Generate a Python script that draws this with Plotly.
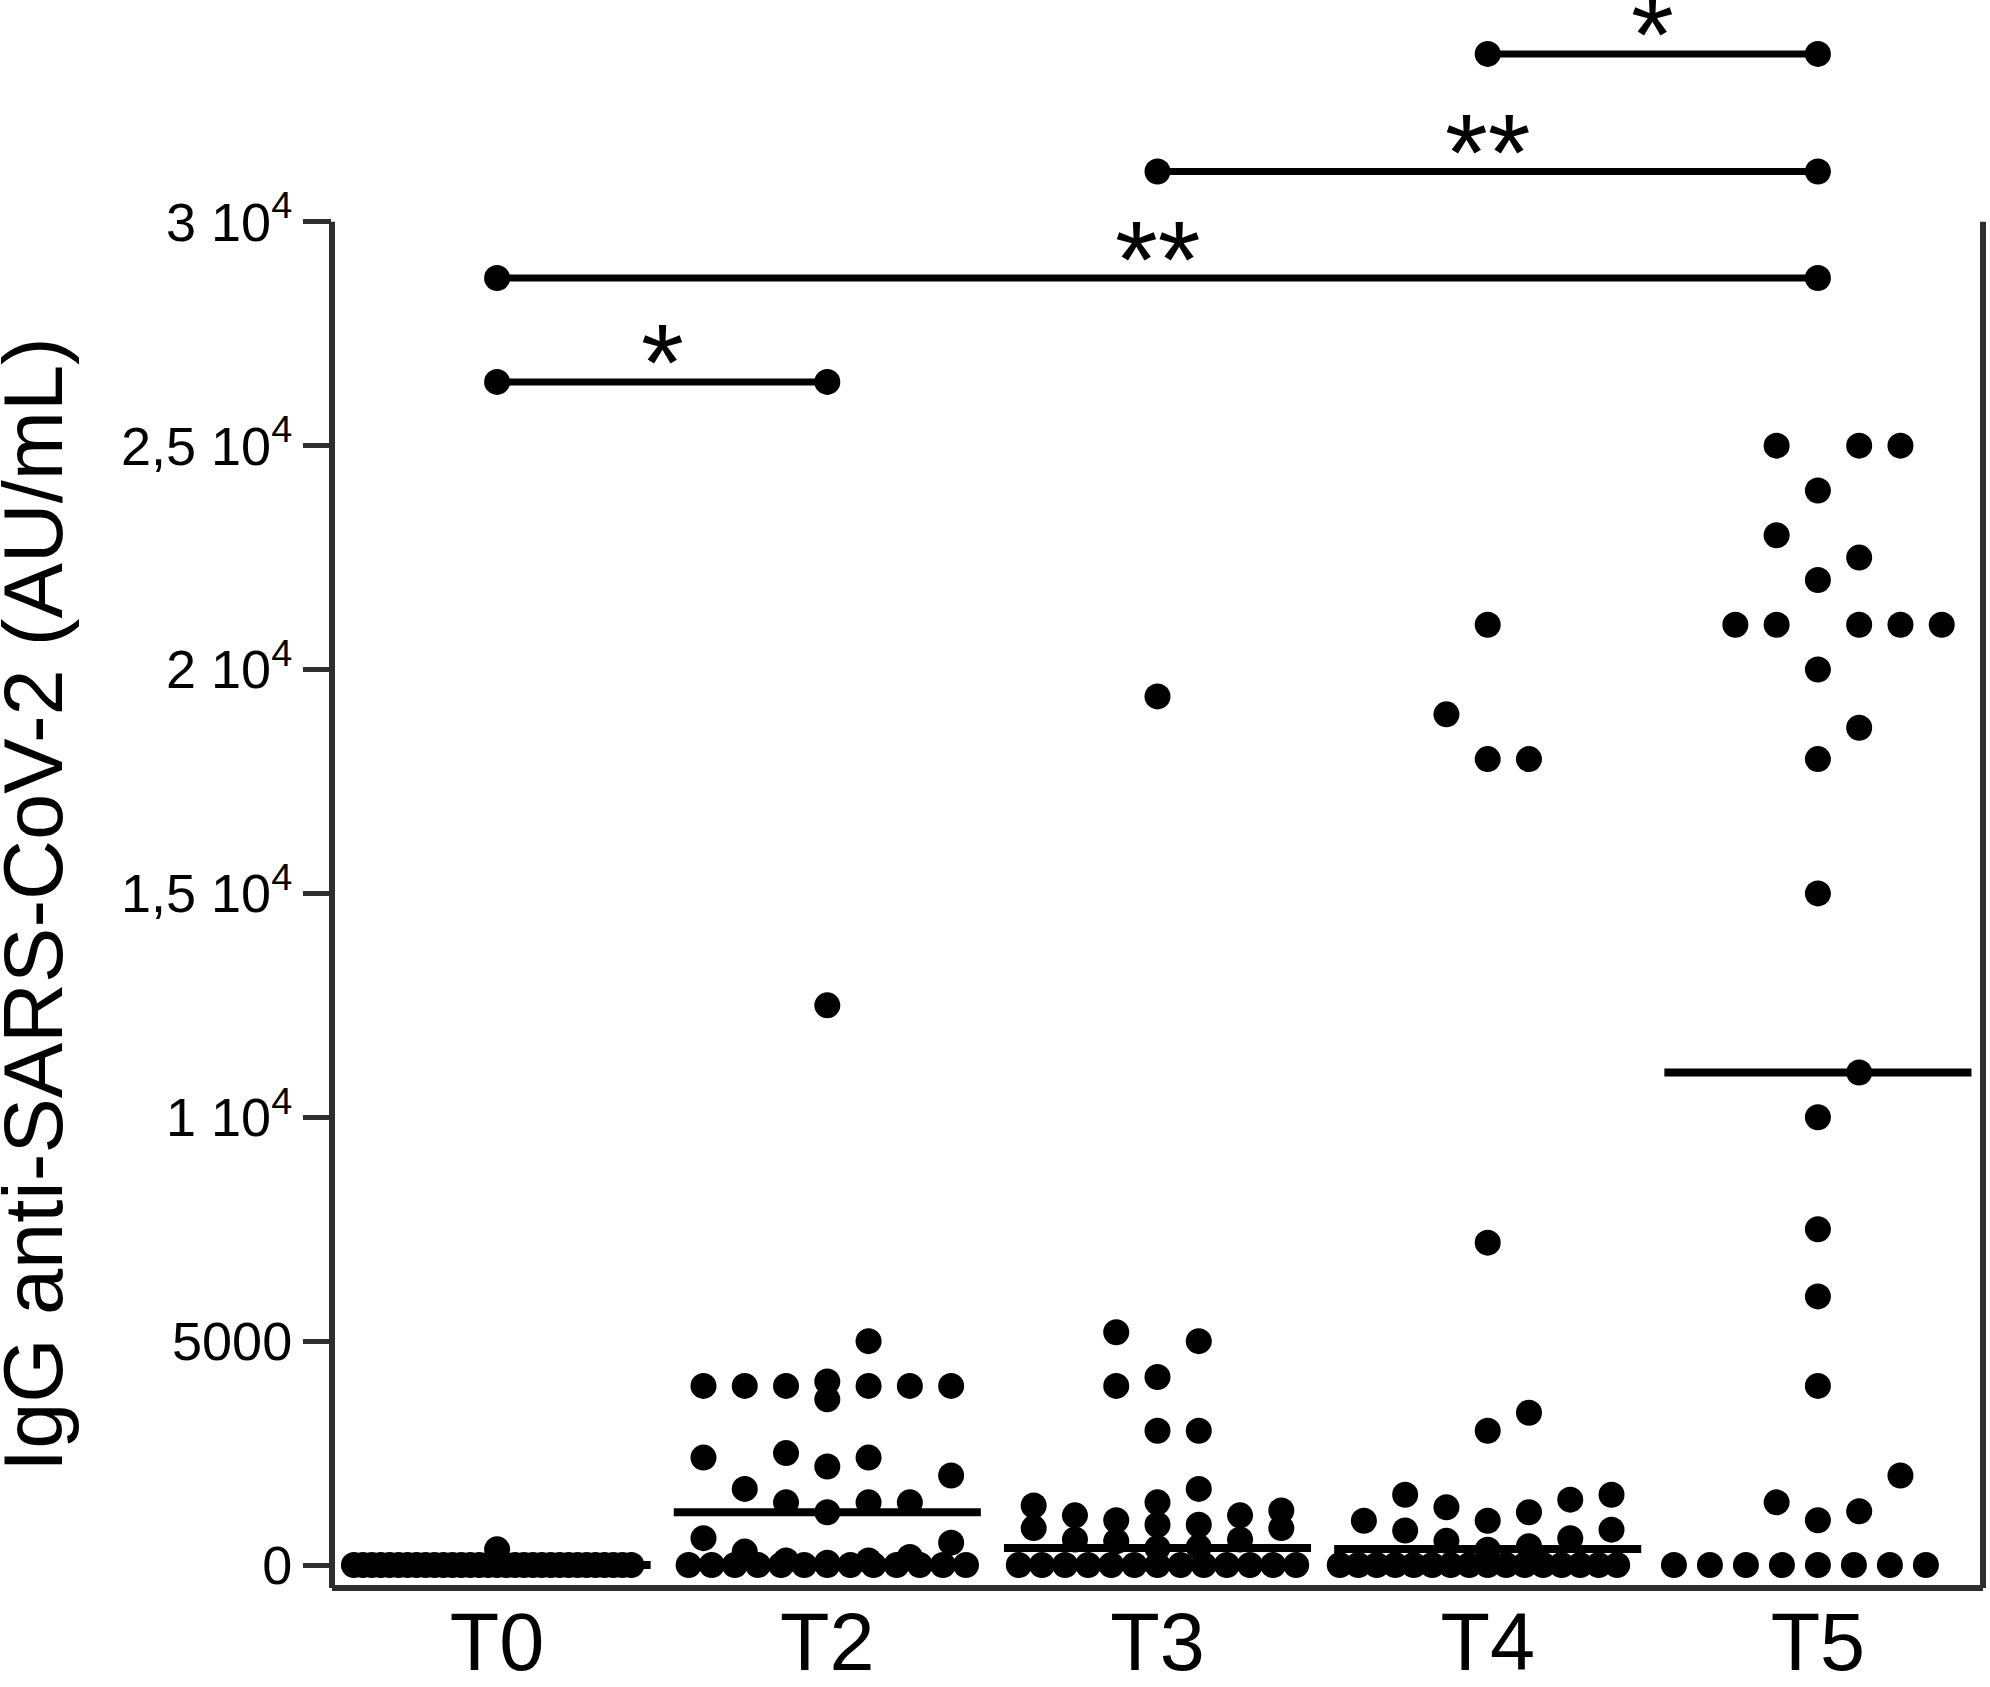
import plotly.graph_objects as go

# ---------------- data ----------------
CATEGORIES = ["T0", "T2", "T3", "T4", "T5"]

T0_VALUES = [0, 0, 0, 0, 0, 0, 0, 0, 0, 0, 0, 0, 0, 0, 0, 0,
             0, 0, 0, 0, 0, 0, 0, 0, 0, 0, 0, 0, 0, 0, 0, 0,
             350]
T2_VALUES = [12500, 5000, 4100, 4000, 4000, 4000, 4000, 4000, 4000, 3700,
             2500, 2400, 2400, 2200, 2000, 1700, 1400, 1400, 1400, 1180,
             600, 500, 300, 180, 100, 100, 50,
             0, 0, 0, 0, 0, 0, 0, 0, 0, 0, 0, 0, 0]
T3_VALUES = [19400, 5200, 5000, 4200, 4000, 3000, 3000, 1700, 1400, 1330,
             1220, 1110, 1110, 1000, 900, 900, 825, 825, 570, 570, 530, 400, 380,
             0, 0, 0, 0, 0, 0, 0, 0, 0, 0, 0, 0, 0]
T4_VALUES = [21000, 19000, 18000, 18000, 7200, 3400, 3000, 1570, 1570, 1460,
             1290, 1180, 990, 990, 790, 770, 600, 540, 420, 340,
             0, 0, 0, 0, 0, 0, 0, 0, 0, 0, 0, 0, 0, 0, 0, 0]
T5_VALUES = [25000, 25000, 25000, 24000, 23000, 22500, 22000, 21000, 21000, 21000,
             21000, 21000, 20000, 18700, 18000, 15000, 11000, 10000, 7500, 6000,
             4000, 2000, 1400, 1200, 1000,
             0, 0, 0, 0, 0, 0, 0, 0]
GROUP_VALUES = [T0_VALUES, T2_VALUES, T3_VALUES, T4_VALUES, T5_VALUES]

MEDIANS = [0, 1180, 380, 360, 11000]

SIG_FROM = ["T0", "T0", "T3", "T4"]
SIG_TO = ["T2", "T5", "T5", "T5"]
SIG_LEVEL = [26425, 28745, 31125, 33750]
SIG_TEXT = ["*", "**", "**", "*"]

Y_TICKS = [0, 5000, 10000, 15000, 20000, 25000, 30000]
Y_TICK_TEXT = ["0", "5000", "1 10<sup>4</sup>", "1,5 10<sup>4</sup>",
               "2 10<sup>4</sup>", "2,5 10<sup>4</sup>", "3 10<sup>4</sup>"]
Y_TITLE = "IgG anti-SARS-CoV-2 (AU/mL)"

# ---------------- layout / style ----------------
FIG_W, FIG_H = 1990, 1687
M_L, M_R, M_T, M_B = 332, 7, 0, 97
Y_MIN, Y_MAX = -513, 34954
AXIS_TOP = 30000
FONT = "Liberation Sans, Arial, Helvetica, sans-serif"
AXIS_COLOR = "#2e2e2e"
DOT = 26
COL_STEP = 0.125        # horizontal distance between swarm columns (x units)
ROW_STEP = 0.109        # max spacing in a row of identical lowest values
ROW_WIDTH = 0.84        # max width of such a row
MIN_SEP = 1005          # min vertical gap (y units) in one swarm column
MAX_COL = 3
MEDIAN_HALF = 0.465
STAR_SIZE = 110
STAR_SHIFT = 20
TITLE_CENTER_PX = 34


def swarm(values):
    """Prism-like scatter-dot layout: offsets computed from the values."""
    base = [v for v in values if v == 0]
    rest = sorted(v for v in values if v != 0)
    xs, ys = [], []
    n = len(base)
    if n:
        step = ROW_STEP if n == 1 else min(ROW_STEP, ROW_WIDTH / (n - 1))
        for i in range(n):
            xs.append((i - n // 2) * step)
            ys.append(0)
    order = [0]
    for k in range(1, MAX_COL + 1):
        order += [k, -k]
    cols = {c: [] for c in order}
    for v in rest:
        chosen = None
        best, best_d = None, -1
        for c in order:
            d = min((abs(v - u) for u in cols[c]), default=float("inf"))
            if d >= MIN_SEP:
                chosen = c
                break
            if d > best_d:
                best, best_d = c, d
        if chosen is None:
            chosen = best
        cols[chosen].append(v)
        xs.append(chosen * COL_STEP)
        ys.append(v)
    return xs, ys


fig = go.Figure()

# median lines
for i, m in enumerate(MEDIANS):
    fig.add_trace(go.Scatter(x=[i - MEDIAN_HALF, i + MEDIAN_HALF], y=[m, m],
                             mode="lines", line=dict(color="black", width=8),
                             hoverinfo="skip", showlegend=False))

# dots
for i, vals in enumerate(GROUP_VALUES):
    dx, dy = swarm(vals)
    fig.add_trace(go.Scatter(x=[i + d for d in dx], y=dy, mode="markers",
                             marker=dict(color="black", size=DOT, line=dict(width=0)),
                             showlegend=False, cliponaxis=False))

# significance bars
annotations = []
for a, b, lvl, txt in zip(SIG_FROM, SIG_TO, SIG_LEVEL, SIG_TEXT):
    ia, ib = CATEGORIES.index(a), CATEGORIES.index(b)
    fig.add_trace(go.Scatter(x=[ia, ib], y=[lvl, lvl], mode="lines+markers",
                             line=dict(color="black", width=7),
                             marker=dict(color="black", size=DOT),
                             showlegend=False, cliponaxis=False))
    annotations.append(dict(x=(ia + ib) / 2, y=lvl, xref="x", yref="y", text=txt,
                            showarrow=False, yanchor="middle", xanchor="center",
                            yshift=STAR_SHIFT,
                            font=dict(size=STAR_SIZE, color="black", family=FONT)))

# y title
annotations.append(dict(x=-(M_L - TITLE_CENTER_PX) / (FIG_W - M_L - M_R),
                        y=(Y_MIN + AXIS_TOP) / 2,
                        xref="paper", yref="y", text=Y_TITLE, textangle=-90,
                        showarrow=False, xanchor="center", yanchor="middle",
                        font=dict(size=83, color="black", family=FONT)))

shapes = [
    dict(type="line", xref="paper", yref="y", x0=0, x1=0, y0=Y_MIN, y1=AXIS_TOP,
         line=dict(color=AXIS_COLOR, width=6)),
    dict(type="line", xref="paper", yref="y", x0=1, x1=1, y0=Y_MIN, y1=AXIS_TOP,
         line=dict(color=AXIS_COLOR, width=6)),
    dict(type="line", xref="paper", yref="paper", x0=0, x1=1, y0=0, y1=0,
         line=dict(color=AXIS_COLOR, width=6)),
]

fig.update_layout(
    width=FIG_W, height=FIG_H,
    margin=dict(l=M_L, r=M_R, t=M_T, b=M_B, pad=0),
    paper_bgcolor="white", plot_bgcolor="white",
    font=dict(family=FONT, color="black"),
    showlegend=False,
    shapes=shapes, annotations=annotations,
    xaxis=dict(range=[-0.5, 4.5], tickmode="array", tickvals=list(range(len(CATEGORIES))),
               ticktext=CATEGORIES, ticks="", showline=False, showgrid=False,
               zeroline=False, tickfont=dict(size=81, color="black", family=FONT),
               fixedrange=True),
    yaxis=dict(range=[Y_MIN, Y_MAX], tickmode="array", tickvals=Y_TICKS,
               ticktext=Y_TICK_TEXT, ticks="outside", ticklen=28, tickwidth=5,
               tickcolor=AXIS_COLOR, showline=False, showgrid=False, zeroline=False,
               tickfont=dict(size=54, color="black", family=FONT), fixedrange=True),
)

fig.write_html("out.html", config={"displayModeBar": False},
               post_script="document.body.style.margin='0';document.body.style.overflow='hidden';")
